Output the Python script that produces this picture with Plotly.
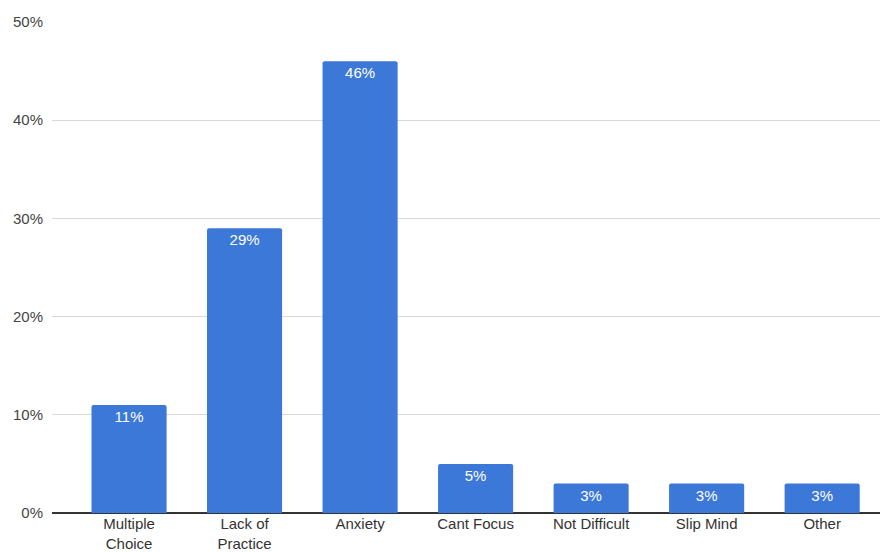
import plotly.graph_objects as go

categories = ["Multiple<br>Choice", "Lack of<br>Practice", "Anxiety", "Cant Focus", "Not Difficult", "Slip Mind", "Other"]
values = [0.11, 0.29, 0.46, 0.05, 0.03, 0.03, 0.03]
labels = ["11%", "29%", "46%", "5%", "3%", "3%", "3%"]
y_ticks = [0, 0.1, 0.2, 0.3, 0.4, 0.5]
y_tick_text = ["0%", "10%", "20%", "30%", "40%", "50%"]

fig = go.Figure(go.Bar(
    x=categories, y=values, text=labels,
    textposition="inside", insidetextanchor="end",
    textfont=dict(color="white", size=15, family="Arial, Liberation Sans, sans-serif"),
    marker=dict(color="#3c78d8", line=dict(width=0)),
    width=0.65,
))
fig.update_layout(
    width=888, height=552,
    margin=dict(l=44, r=8, t=14, b=47, autoexpand=False),
    plot_bgcolor="white", paper_bgcolor="white",
    barcornerradius=2,
    showlegend=False,
    font=dict(family="Arial, Liberation Sans, sans-serif", size=15, color="#444444"),
)
fig.update_xaxes(range=[-0.667, 6.57], showgrid=False, showline=False, ticks="",
                 automargin=False,
                 tickfont=dict(size=15, color="#333333"))
fig.update_yaxes(range=[0, 0.5], tickvals=y_ticks, ticktext=y_tick_text,
                 showgrid=True, gridcolor="#d9d9d9", gridwidth=1,
                 zeroline=True, zerolinecolor="#333333", zerolinewidth=1.5,
                 ticks="", ticklabelstandoff=8, automargin=False,
                 tickfont=dict(size=15, color="#444444"))
fig.write_html("out.html")
